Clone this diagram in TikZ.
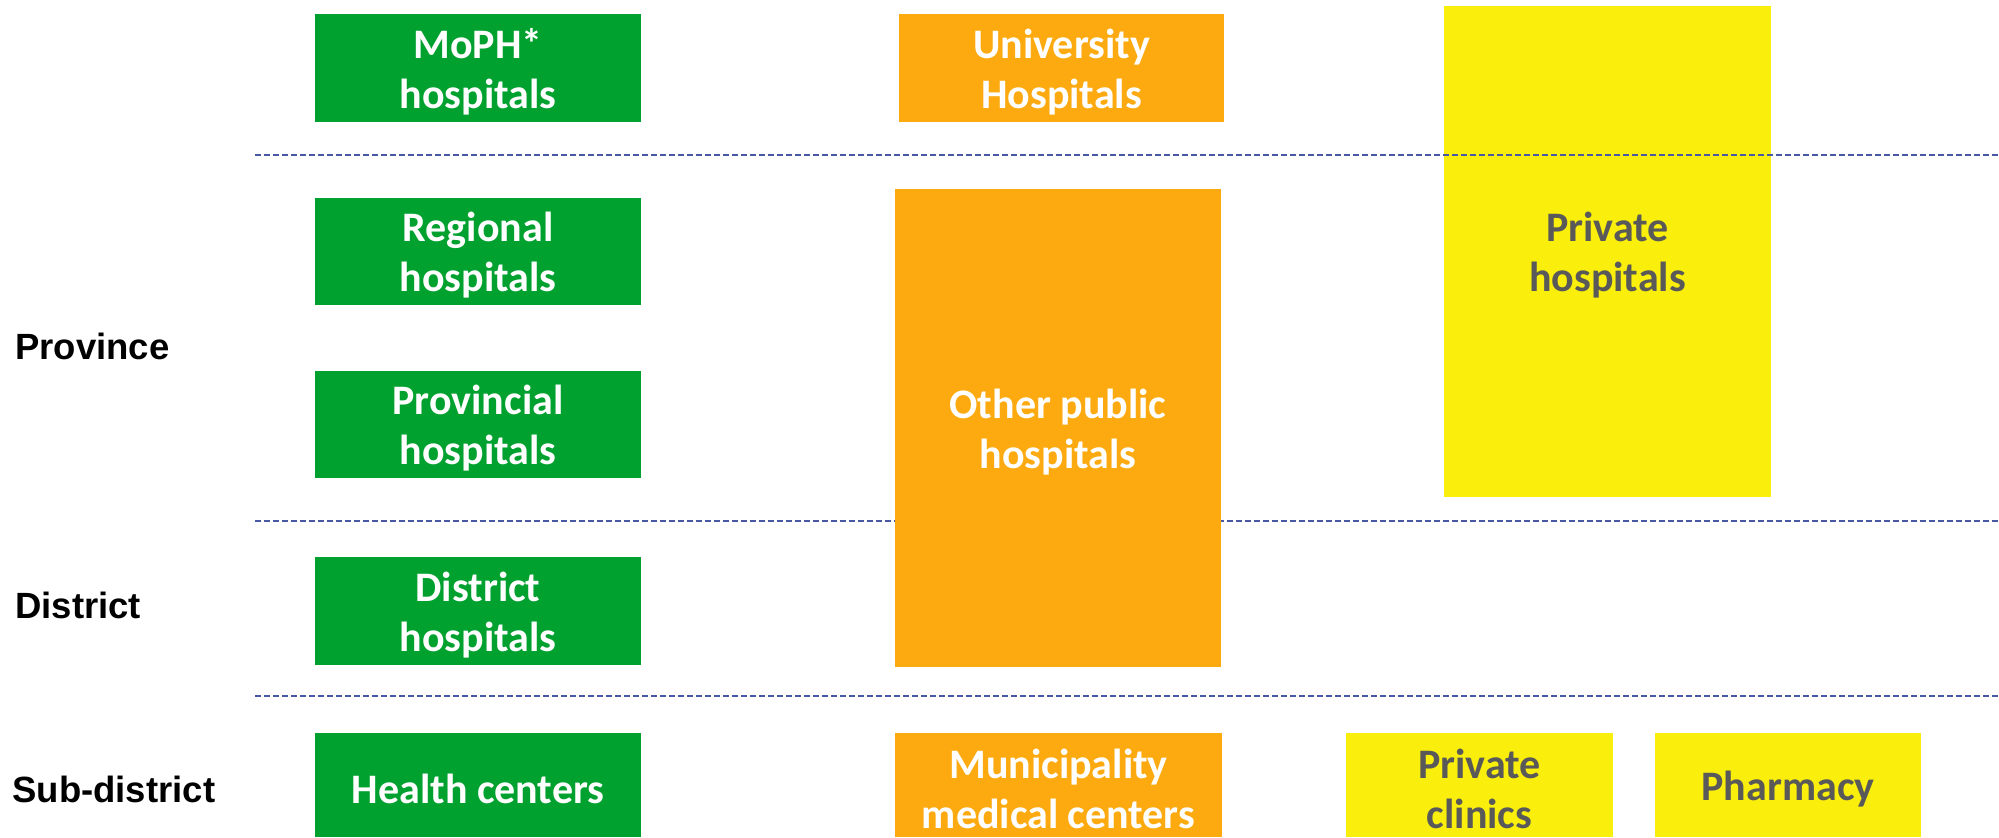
\documentclass[tikz,border=0pt]{standalone}
\usepackage{fontspec}
\setmainfont{Carlito}
\newfontfamily\labelfont{Liberation Sans}
\definecolor{mophgreen}{RGB}{0,161,46}
\definecolor{puborange}{RGB}{252,170,16}
\definecolor{privyellow}{RGB}{249,238,12}
\definecolor{privtext}{RGB}{89,89,89}
\definecolor{levelline}{RGB}{72,88,164}
\tikzset{
  unitbox/.style={inner sep=0pt, outer sep=0pt},
  greenbox/.style={unitbox, fill=mophgreen},
  orangebox/.style={unitbox, fill=puborange},
  yellowbox/.style={unitbox, fill=privyellow},
  boxtext/.style={inner sep=0pt, align=center,
    font=\fontsize{21}{25}\selectfont\bfseries},
  lighttext/.style={boxtext, text=white},
  darktext/.style={boxtext, text=privtext},
  levellabel/.style={anchor=base west, inner sep=0pt,
    font=\labelfont\fontsize{18.25}{22}\selectfont\bfseries},
  levelsep/.style={draw=levelline, line width=1pt,
    dash pattern=on 2.75pt off 1.75pt}
}
\begin{document}
\begin{tikzpicture}[x=0.5pt,y=-0.5pt]
\useasboundingbox (0,0) rectangle (1999,837);

% private hospitals sit beneath the level separators
\node[yellowbox, minimum width=163.5pt, minimum height=245.5pt] (privhosp) at (1607.5,251.5) {};
\node[darktext] (privhosp-t) at ([yshift=-2pt]privhosp.center) {Private\\hospitals};

% level separators
\coordinate (s1a) at (255,155);  \coordinate (s1b) at (1999,155);
\coordinate (s2a) at (255,521);  \coordinate (s2b) at (1999,521);
\coordinate (s3a) at (255,696);  \coordinate (s3b) at (1999,696);
\draw[levelsep] (s1a) -- (s1b);
\draw[levelsep] (s2a) -- (s2b);
\draw[levelsep] (s3a) -- (s3b);

% level labels
\node[levellabel] (province) at (15,359) {Province};
\node[levellabel] (district) at (15,618) {District};
\node[levellabel] (subdistrict) at (12,802) {Sub-district};

% MoPH column
\node[greenbox, minimum width=163pt, minimum height=54pt] (moph) at (478,68) {};
\node[lighttext] (moph-t) at ([yshift=-2pt]moph.center) {MoPH*\\hospitals};
\node[greenbox, minimum width=163pt, minimum height=53.5pt] (regional) at (478,251.5) {};
\node[lighttext] (regional-t) at ([yshift=-2pt]regional.center) {Regional\\hospitals};
\node[greenbox, minimum width=163pt, minimum height=53.5pt] (provincial) at (478,424.5) {};
\node[lighttext] (provincial-t) at ([yshift=-2pt]provincial.center) {Provincial\\hospitals};
\node[greenbox, minimum width=163pt, minimum height=54pt] (districth) at (478,611) {};
\node[lighttext] (districth-t) at ([yshift=-2pt]districth.center) {District\\hospitals};
\node[greenbox, minimum width=163pt, minimum height=52pt] (health) at (478,785) {};
\node[lighttext] (health-t) at ([yshift=-2pt]health.center) {Health centers};

% other public column
\node[orangebox, minimum width=162.5pt, minimum height=54pt] (univ) at (1061.5,68) {};
\node[lighttext] (univ-t) at ([yshift=-2pt]univ.center) {University\\Hospitals};
\node[orangebox, minimum width=163pt, minimum height=239pt] (otherpub) at (1058,428) {};
\node[lighttext] (otherpub-t) at ([yshift=-2pt]otherpub.center) {Other public\\hospitals};
\node[orangebox, minimum width=163.5pt, minimum height=52pt] (munic) at (1058.5,785) {};
\node[lighttext] (munic-t) at ([yshift=-2pt]munic.center) {Municipality\\medical centers};

% private column
\node[yellowbox, minimum width=133.5pt, minimum height=52pt] (clinics) at (1479.5,785) {};
\node[darktext] (clinics-t) at ([yshift=-2pt]clinics.center) {Private\\clinics};
\node[yellowbox, minimum width=133pt, minimum height=52pt] (pharmacy) at (1788,785) {};
\node[darktext] (pharmacy-t) at ([yshift=-2pt]pharmacy.center) {Pharmacy};
\end{tikzpicture}
\end{document}
